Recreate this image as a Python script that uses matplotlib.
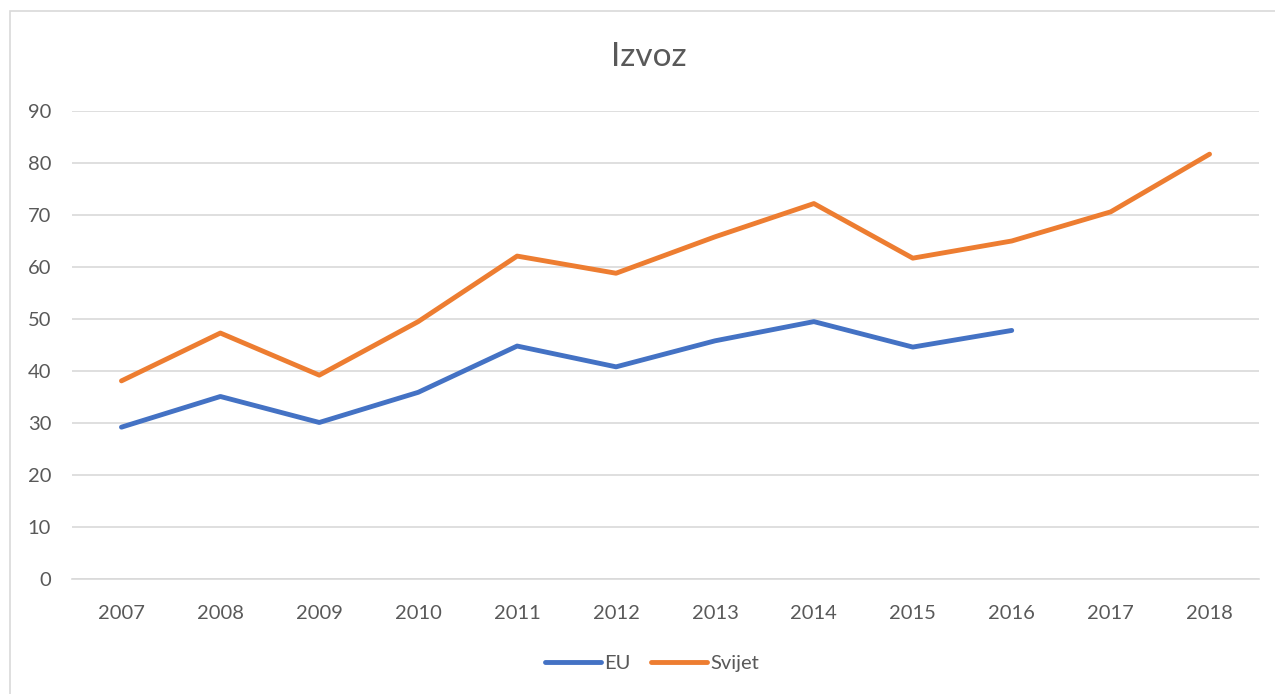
import matplotlib
matplotlib.use('Agg')
import matplotlib.pyplot as plt
from matplotlib.patches import Rectangle

# Podaci
years = ['2007', '2008', '2009', '2010', '2011', '2012', '2013', '2014',
         '2015', '2016', '2017', '2018']
eu = [29.2, 35.1, 30.1, 35.9, 44.8, 40.8, 45.8, 49.5, 44.6, 47.8]
svijet = [38.1, 47.3, 39.2, 49.5, 62.1, 58.8, 65.8, 72.2, 61.7, 65.0, 70.6, 81.7]

text_col = '#595959'
plt.rcParams['font.family'] = ['Lato', 'DejaVu Sans']

fig = plt.figure(figsize=(12.75, 6.94), dpi=100)
fig.patch.set_facecolor('white')
# okvir grafikona
fig.patches.append(Rectangle((10 / 1275, -0.05), 1.1, 1 - 11 / 694 + 0.05,
                             transform=fig.transFigure, fill=False,
                             edgecolor='#D9D9D9', linewidth=1.2))

ax = fig.add_axes([72 / 1275, 1 - 579 / 694, (1259 - 72) / 1275, (579 - 111) / 694])
x = list(range(len(years)))
ax.plot(x[:len(eu)], eu, color='#4472C4', lw=3.5, label='EU',
        solid_capstyle='round', solid_joinstyle='round')
ax.plot(x, svijet, color='#ED7D31', lw=3.5, label='Svijet',
        solid_capstyle='round', solid_joinstyle='round')

ax.set_xlim(-0.5, len(years) - 0.5)
ax.set_ylim(0, 90)
ax.set_yticks(range(0, 91, 10))
ax.set_xticks(x)
ax.set_xticklabels(years)
ax.grid(axis='y', color='#D9D9D9', lw=1.2)
ax.set_axisbelow(True)
for s in ['top', 'right', 'left']:
    ax.spines[s].set_visible(False)
ax.spines['bottom'].set_color('#D9D9D9')
ax.spines['bottom'].set_linewidth(1.2)
ax.tick_params(axis='both', length=0, labelsize=14.5, labelcolor=text_col)
ax.tick_params(axis='x', pad=19)
ax.tick_params(axis='y', pad=15)

fig.text(649 / 1275, 1 - 57 / 694, 'Izvoz', ha='center', va='center',
         fontsize=24, color=text_col)

fig.legend(loc='center', bbox_to_anchor=(652 / 1275, 1 - 663 / 694), ncol=2,
           frameon=False, fontsize=14.5, labelcolor=text_col, handlelength=2.8,
           handletextpad=0.15, columnspacing=1.0)

fig.savefig('out.png', dpi=100)
